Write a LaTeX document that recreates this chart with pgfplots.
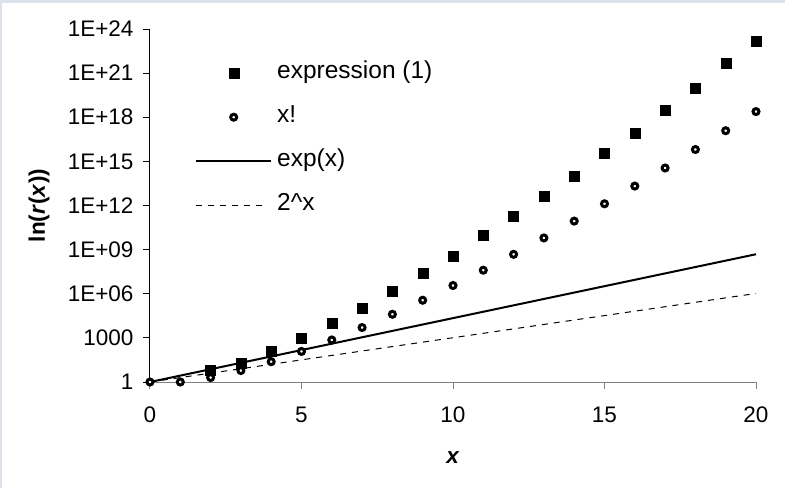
\documentclass[border=0pt]{standalone}
\usepackage{fontspec}
\setmainfont{Liberation Sans}
\usepackage{pgfplots}
\pgfplotsset{compat=1.18}
\definecolor{framecol}{HTML}{DCE2EC}
\definecolor{xaxcol}{HTML}{808080}
\newcommand\cf{\fontsize{22.5}{26}\selectfont}
\newcommand\lf{\fontsize{24.5}{28}\selectfont}
\pgfplotsset{
  markleg/.style={legend image code/.code={\draw[mark repeat=2,mark phase=2,##1] plot coordinates {(0pt,0pt) (37.5pt,0pt) (75pt,0pt)};}},
  solidleg/.style={legend image code/.code={\draw[##1] (0pt,0pt) -- (75pt,0pt);}},
  dashleg/.style={legend image code/.code={\draw[##1] (0pt,0pt) -- (70pt,0pt);}},
  circ/.style={only marks, mark=*, mark size=3pt, draw=black, fill=white, line width=3pt, mark options={draw=black, fill=white, line width=3pt, solid}},
  sq/.style={only marks, mark=square*, mark size=5pt, black, mark options={solid}},
}
\begin{document}
\begin{tikzpicture}
\useasboundingbox (-150pt,-106pt) rectangle (635pt,382pt);
\fill[framecol] (-150pt,-106pt) rectangle (635pt,382pt);
\fill[white] (-148pt,-106pt) rectangle (635pt,379pt);
\begin{axis}[
  at={(0,0)}, anchor=south west,
  scale only axis, width=606pt, height=353pt,
  xmin=0, xmax=20, ymode=log, log basis y=10, ymin=1, ymax=1e24,
  axis lines*=left,
  clip=false,
  x axis line style={draw=xaxcol, line width=1pt},
  y axis line style={draw=black, line width=1pt},
  xtick={0,5,10,15,20}, xticklabels={0,5,10,15,20},
  ytick={1,1e3,1e6,1e9,1e12,1e15,1e18,1e21,1e24},
  yticklabels={1,1000,1E+06,1E+09,1E+12,1E+15,1E+18,1E+21,1E+24},
  yminorticks=false, xminorticks=false,
  tick align=outside, major tick length=7pt,
  xtick style={draw=xaxcol, line width=1pt},
  ytick style={draw=black, line width=1pt},
  tick label style={font=\cf},
  xticklabel style={anchor=center, yshift=-26pt},
  yticklabel style={anchor=east, xshift=-6pt},
  label style={font=\cf},
  xlabel={\textbf{\textit{x}}},
  ylabel={\textbf{ln(\textit{r}(\textit{x}))}},
  xlabel style={at={(axis description cs:0.5,-0.215)}, anchor=center},
  ylabel style={at={(axis description cs:-0.183,0.5)}, anchor=center},
  legend style={draw=none, fill=none, font=\lf, at={(axis description cs:0.0743,0.9065)}, anchor=north west, inner sep=0pt, row sep=22pt, column sep=5pt, nodes={inner sep=0pt, text height=16.5pt, text depth=5.5pt}},
  legend cell align=left,
]
\addlegendimage{sq, markleg}
\addlegendentry{expression (1)}
\addlegendimage{circ, markleg}
\addlegendentry{x!}
\addlegendimage{black, line width=2pt, solidleg}
\addlegendentry{exp(x)}
\addlegendimage{black, line width=1pt, dash pattern=on 6pt off 6pt, dashleg}
\addlegendentry{2\textasciicircum x}

% 2^x
\addplot[black, line width=1pt, dash pattern=on 6pt off 6pt, forget plot] coordinates {
(0,1) (1,2) (2,4) (3,8) (4,16) (5,32) (6,64) (7,128) (8,256) (9,512) (10,1024)
(11,2048) (12,4096) (13,8192) (14,16384) (15,32768) (16,65536) (17,131072)
(18,262144) (19,524288) (20,1048576)};
% exp(x)
\addplot[black, line width=2pt, forget plot] coordinates {
(0,1) (1,2.718) (2,7.389) (3,20.09) (4,54.60) (5,148.4) (6,403.4) (7,1096.6)
(8,2981.0) (9,8103.1) (10,22026) (11,59874) (12,162755) (13,442413)
(14,1.2026e6) (15,3.269e6) (16,8.886e6) (17,2.4155e7) (18,6.566e7)
(19,1.7848e8) (20,4.8517e8)};
% expression (1)
\addplot[sq, forget plot] coordinates {
(2,5.9) (3,19.5) (4,129) (5,1023) (6,1.07e4) (7,1.02e5) (8,1.38e6) (9,2.69e7)
(10,3.7e8) (11,9.3e9) (12,1.74e11) (13,4.5e12) (14,1.0e14) (15,3.7e15)
(16,8.5e16) (17,3.1e18) (18,9.8e19) (19,4.9e21) (20,1.55e23)};
% x!
\addplot[circ, forget plot] coordinates {
(0,1) (1,1) (2,2) (3,6) (4,24) (5,120) (6,720) (7,5040) (8,40320) (9,362880)
(10,3628800) (11,39916800) (12,479001600) (13,6227020800) (14,87178291200)
(15,1.307674e12) (16,2.092279e13) (17,3.556874e14) (18,6.402374e15)
(19,1.216451e17) (20,2.432902e18)};
\end{axis}
\end{tikzpicture}
\end{document}
